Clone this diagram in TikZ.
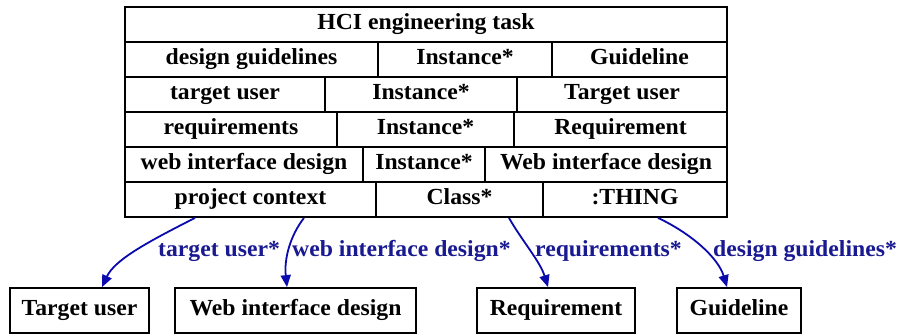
\documentclass[tikz,border=0pt]{standalone}
\usepackage{fontspec}
\setmainfont[FakeStretch=1.03]{Liberation Serif}
\usetikzlibrary{arrows.meta}
\definecolor{edgeblue}{RGB}{10,10,175}
\definecolor{labelblue}{RGB}{25,25,145}
\begin{document}
\begin{tikzpicture}[x=1pt,y=-1pt,
  cell/.style={draw=black,line width=1.8pt,minimum height=35pt,inner sep=0pt,
    text height=15pt,text depth=5pt,
    font=\fontsize{23}{27}\selectfont\bfseries},
  leaf/.style={draw=black,line width=1.8pt,minimum height=45pt,inner sep=0pt,
    text height=15pt,text depth=5pt,
    font=\fontsize{23}{27}\selectfont\bfseries},
  elabel/.style={anchor=west,inner sep=0pt,text=labelblue,
    text height=15pt,text depth=5pt,
    font=\fontsize{23}{27}\selectfont\bfseries},
  link/.style={draw=edgeblue,line width=1.8pt,-{Triangle[length=12pt,width=10pt]}}]
\useasboundingbox[fill=white] (0,0) rectangle (902,335);
% row 1
\node[cell,minimum width=602pt] (hci) at (426,24.5) {HCI engineering task};
% row 2
\node[cell,minimum width=253pt] (dg) at (251.5,59.5) {design guidelines};
\node[cell,minimum width=174pt] (dgi) at (465,59.5) {Instance*};
\node[cell,minimum width=175pt] (dgc) at (639.5,59.5) {Guideline};
% row 3
\node[cell,minimum width=200pt] (tu) at (225,94.5) {target user};
\node[cell,minimum width=192pt] (tui) at (421,94.5) {Instance*};
\node[cell,minimum width=210pt] (tuc) at (622,94.5) {Target user};
% row 4
\node[cell,minimum width=212pt] (rq) at (231,129.5) {requirements};
\node[cell,minimum width=177pt] (rqi) at (425.5,129.5) {Instance*};
\node[cell,minimum width=213pt] (rqc) at (620.5,129.5) {Requirement};
% row 5
\node[cell,minimum width=238pt] (wi) at (244,164.5) {web interface design};
\node[cell,minimum width=122pt] (wii) at (424,164.5) {Instance*};
\node[cell,minimum width=242pt] (wic) at (606,164.5) {Web interface design};
% row 6
\node[cell,minimum width=251pt] (pc) at (250.5,199.5) {project context};
\node[cell,minimum width=167pt] (pcc) at (459.5,199.5) {Class*};
\node[cell,minimum width=184pt] (pct) at (635,199.5) {:THING};
% leaves
\node[leaf,minimum width=139pt] (ltu) at (79.5,310.5) {Target user};
\node[leaf,minimum width=241pt] (lwi) at (295.5,310.5) {Web interface design};
\node[leaf,minimum width=158pt] (lrq) at (556,310.5) {Requirement};
\node[leaf,minimum width=124pt] (lgl) at (739,310.5) {Guideline};
% edges
\draw[link] ([xshift=-55.5pt]pc.south) .. controls +(-45,23) and +(13,-28) .. ([xshift=22.5pt]ltu.north);
\draw[link] ([xshift=53.5pt]pc.south) .. controls +(-14,18) and +(-3,-28) .. ([xshift=-8.5pt]lwi.north);
\draw[link] ([xshift=49.5pt]pcc.south) .. controls +(13,23) and +(-8,-26) .. ([xshift=-8pt]lrq.north);
\draw[link] ([xshift=23pt]pct.south) .. controls +(32,15) and +(-9,-30) .. ([xshift=-12pt]lgl.north);
% edge labels
\node[elabel] (e1) at (158,251) {target user*};
\node[elabel] (e2) at (292,251) {web interface design*};
\node[elabel] (e3) at (535,251) {requirements*};
\node[elabel] (e4) at (713,251) {design guidelines*};
\end{tikzpicture}
\end{document}
